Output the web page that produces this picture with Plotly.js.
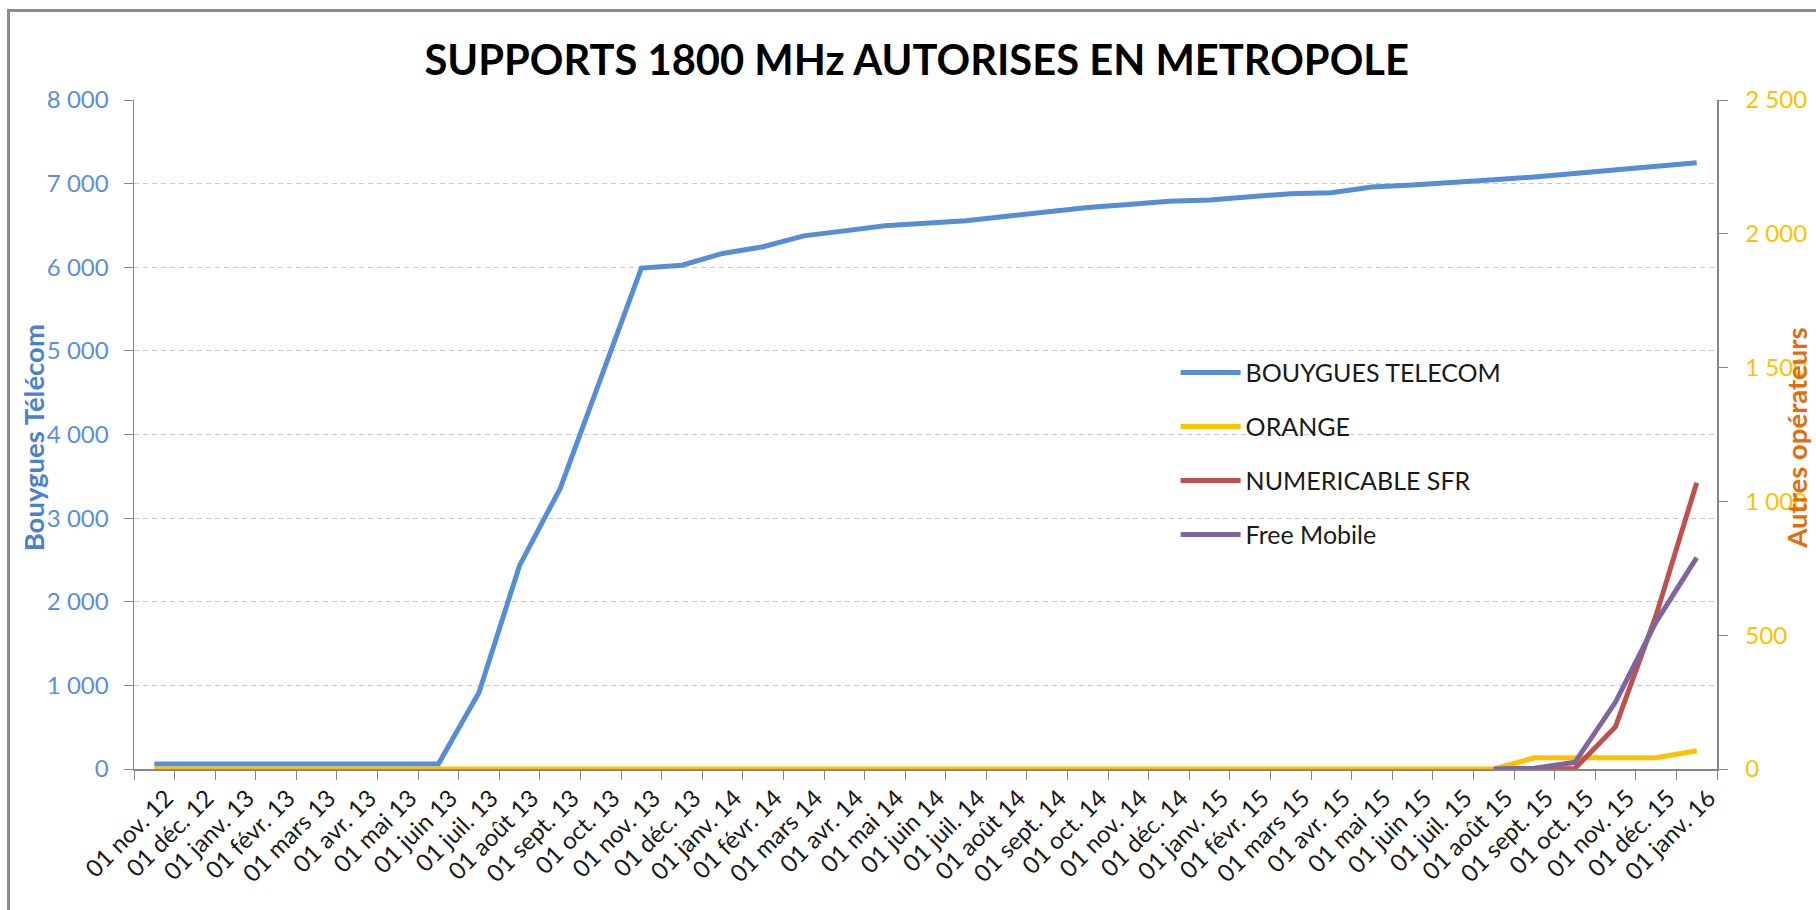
<!DOCTYPE html>
<html>
<head>
<meta charset="utf-8">
<script src="https://cdn.plot.ly/plotly-3.0.1.min.js"></script>
<style>
  html, body { margin: 0; padding: 0; background: #ffffff; }
  #chart { position: absolute; left: 0; top: 0; width: 1816px; height: 910px; }
  #frame { position: absolute; left: 7px; top: 9px; width: 1830px; height: 920px;
           border-left: 3px solid #8c8c8c; border-top: 3px solid #8c8c8c;
           pointer-events: none; z-index: 10; }
</style>
</head>
<body>
<div id="chart"></div>
<div id="frame"></div>
<script>
const categories = [
  "01 nov. 12","01 déc. 12","01 janv. 13","01 févr. 13","01 mars 13","01 avr. 13","01 mai 13","01 juin 13",
  "01 juil. 13","01 août 13","01 sept. 13","01 oct. 13","01 nov. 13","01 déc. 13","01 janv. 14","01 févr. 14",
  "01 mars 14","01 avr. 14","01 mai 14","01 juin 14","01 juil. 14","01 août 14","01 sept. 14","01 oct. 14",
  "01 nov. 14","01 déc. 14","01 janv. 15","01 févr. 15","01 mars 15","01 avr. 15","01 mai 15","01 juin 15",
  "01 juil. 15","01 août 15","01 sept. 15","01 oct. 15","01 nov. 15","01 déc. 15","01 janv. 16"
];

const bouygues = [
  60, 60, 60, 60, 60, 60, 60, 60,
  915, 2435, 3355, 4670, 5990, 6025, 6165, 6245,
  6375, 6435, 6495, 6525, 6555, 6610, 6665, 6715,
  6750, 6790, 6805, 6835, 6880, 6890, 6960, 6985,
  7010, 7045, 7080, 7120, 7165, 7205, 7250
];

const orange = [
  0, 0, 0, 0, 0, 0, 0, 0,
  0, 0, 0, 0, 0, 0, 0, 0,
  0, 0, 0, 0, 0, 0, 0, 0,
  0, 0, 0, 0, 0, 0, 0, 0,
  0, 0, 42, 42, 42, 42, 68
];

const sfr = [
  null, null, null, null, null, null, null, null,
  null, null, null, null, null, null, null, null,
  null, null, null, null, null, null, null, null,
  null, null, null, null, null, null, null, null,
  null, null, 0, 2, 158, 575, 1070
];

const free = [
  null, null, null, null, null, null, null, null,
  null, null, null, null, null, null, null, null,
  null, null, null, null, null, null, null, null,
  null, null, null, null, null, null, null, null,
  null, 0, 3, 25, 250, 550, 790
];

const seriesNames = ["BOUYGUES TELECOM", "ORANGE", "NUMERICABLE SFR", "Free Mobile"];
const FONT = "Lato, 'Open Sans', sans-serif";

const traces = [
  { x: categories, y: bouygues, name: seriesNames[0], yaxis: "y", legendgroup: "g1",
    type: "scatter", mode: "lines", line: { color: "#558ED5", width: 5 } },
  { x: categories, y: orange, name: seriesNames[1], yaxis: "y2", legendgroup: "g2",
    type: "scatter", mode: "lines", line: { color: "#FFC000", width: 5 } },
  { x: categories, y: sfr, name: seriesNames[2], yaxis: "y2", legendgroup: "g3",
    type: "scatter", mode: "lines", line: { color: "#C0504D", width: 5 } },
  { x: categories, y: free, name: seriesNames[3], yaxis: "y2", legendgroup: "g4",
    type: "scatter", mode: "lines", line: { color: "#8064A2", width: 5 } }
];

const layout = {
  width: 1816, height: 910,
  paper_bgcolor: "#ffffff", plot_bgcolor: "#ffffff",
  separators: ", ",
  font: { family: FONT, color: "#262626" },
  margin: { l: 134, r: 99, t: 100, b: 141, pad: 0 },
  title: {
    text: "SUPPORTS 1800 MHz AUTORISES EN METROPOLE",
    font: { family: FONT, size: 41.7, color: "#000000", weight: "bold" },
    x: 0.5048, xref: "container", xanchor: "center",
    y: 0.934, yref: "container", yanchor: "middle"
  },
  showlegend: true,
  legend: {
    x: 0.658, xanchor: "left", y: 0.6265, yanchor: "top",
    bgcolor: "rgba(0,0,0,0)", borderwidth: 0,
    itemwidth: 60,
    font: { family: FONT, size: 25, color: "#1a1a1a" },
    tracegroupgap: 18.5, traceorder: "grouped"
  },
  xaxis: {
    type: "category", range: [-0.5, 38.5],
    tickson: "boundaries", ticks: "outside", ticklen: 9, tickcolor: "#868686", tickwidth: 1,
    showline: true, linecolor: "#868686", linewidth: 1.5,
    showgrid: false, zeroline: false,
    tickangle: -45,
    ticklabelshift: 12, ticklabelstandoff: 4,
    tickfont: { family: FONT, size: 24, color: "#1a1a1a" }
  },
  yaxis: {
    range: [0, 8000], dtick: 1000, tick0: 0, tickformat: ",d",
    showline: true, linecolor: "#868686", linewidth: 1.5,
    ticks: "outside", ticklen: 9, tickcolor: "#868686",
    ticklabelstandoff: 10,
    showgrid: true, gridcolor: "#c8c8c8", gridwidth: 1, griddash: "5px,4px",
    zeroline: false,
    tickfont: { family: FONT, size: 24, color: "#5B8FD8" }
  },
  yaxis2: {
    overlaying: "y", side: "right", anchor: "x",
    range: [0, 2500], dtick: 500, tick0: 0, tickformat: ",d",
    showline: true, linecolor: "#868686", linewidth: 1.5,
    ticks: "outside", ticklen: 9, tickcolor: "#868686",
    ticklabelstandoff: 13,
    showgrid: false, zeroline: false,
    tickfont: { family: FONT, size: 24, color: "#FFC000" }
  },
  annotations: [
    {
      text: "Bouygues Télécom", textangle: -90,
      xref: "paper", yref: "paper", x: -0.0635, y: 0.495,
      xanchor: "center", yanchor: "middle", showarrow: false,
      font: { family: FONT, size: 27.5, color: "#4A80D3", weight: "bold" }
    },
    {
      text: "Autres opérateurs", textangle: -90,
      xref: "paper", yref: "paper", x: 1.0505, y: 0.495,
      xanchor: "center", yanchor: "middle", showarrow: false,
      font: { family: FONT, size: 27.5, color: "#E46C0A", weight: "bold" }
    }
  ]
};

Plotly.newPlot("chart", traces, layout, { displayModeBar: false, staticPlot: true });
</script>
</body>
</html>
